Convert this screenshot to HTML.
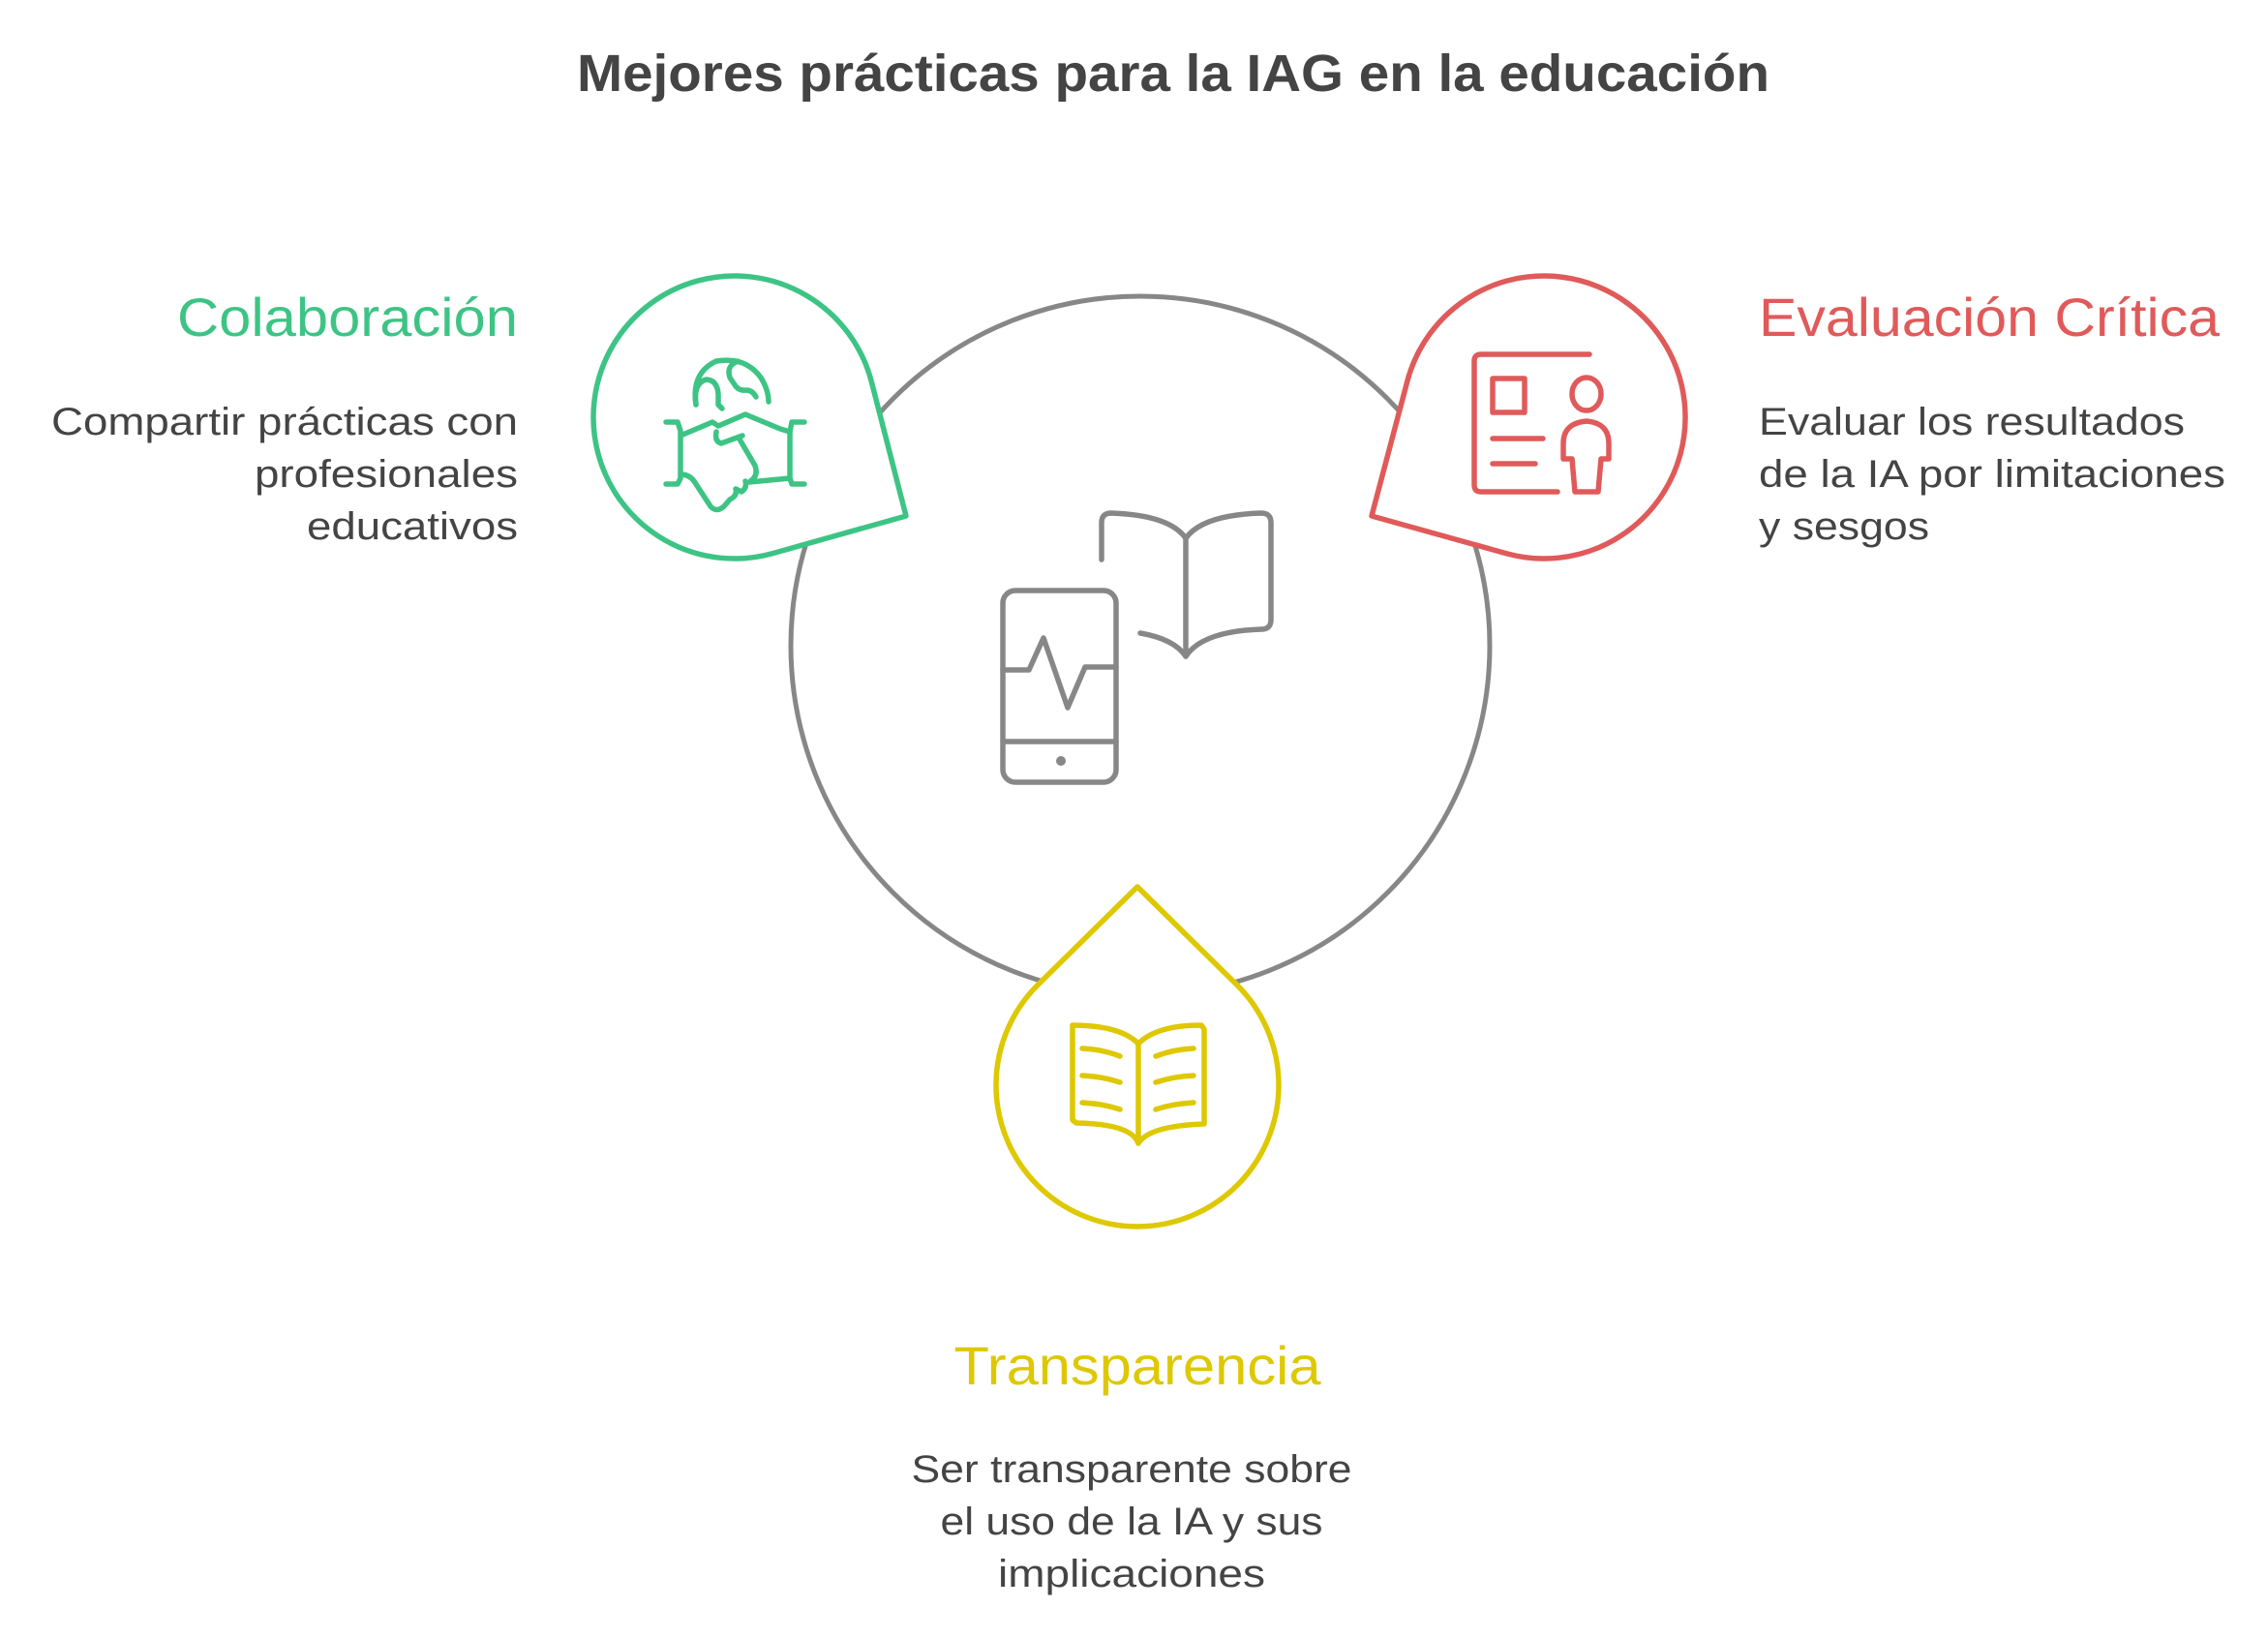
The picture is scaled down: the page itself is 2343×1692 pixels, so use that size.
<!DOCTYPE html>
<html><head><meta charset="utf-8"><style>
html,body{margin:0;padding:0;background:#fff;}
svg{display:block;}
text{font-family:"Liberation Sans",sans-serif;}
</style></head><body>
<svg width="2343" height="1692" viewBox="0 0 2343 1692" xmlns="http://www.w3.org/2000/svg">
<rect width="2343" height="1692" fill="#fff"/>
<text x="1212" y="94" font-size="54" font-weight="bold" fill="#444" text-anchor="middle" textLength="1232" lengthAdjust="spacingAndGlyphs">Mejores prácticas para la IAG en la educación</text>

<circle cx="1178" cy="667" r="361" fill="none" stroke="#878787" stroke-width="5"/>

<g fill="#fff" stroke-width="5.5" stroke-linejoin="round">
<path d="M900.4,394.7 L936,533 L798.3,571.6 A146,146 0 1,1 900.4,394.7 Z" stroke="#3DC485"/>
<path d="M1453.6,394.7 L1417,533 L1555.7,571.6 A146,146 0 1,0 1453.6,394.7 Z" stroke="#E05A5A"/>
<path d="M1072.5,1017 L1175,916 L1277.5,1017 A146,146 0 1,1 1072.5,1017 Z" stroke="#DEC800"/>
</g>

<!-- center icon -->
<g fill="none" stroke="#878787" stroke-width="5.5" stroke-linecap="round" stroke-linejoin="round">
<rect x="1036" y="610" width="117" height="198" rx="13"/>
<line x1="1036" y1="766" x2="1153" y2="766"/>
<polyline points="1036,692 1063,692 1078,659 1103,731 1121,689 1153,689"/>
<path d="M1138,578 L1138,540 Q1138,530 1148,530 Q1208,532 1225,556 Q1242,532 1303,530 Q1313,530 1313,540 L1313,640 Q1313,650 1303,650 Q1242,652 1225,678 Q1213,660 1178,654"/>
<line x1="1225" y1="556" x2="1225" y2="678"/>
</g>
<circle cx="1096" cy="786" r="5" fill="#878787"/>

<!-- green handshake -->
<g fill="none" stroke="#3DC485" stroke-width="5.5" stroke-linecap="round" stroke-linejoin="round">
<path d="M719,418 Q714,385 740,373 Q770,368 786,390 Q794,403 794,415"/>
<path d="M719,418 Q716,395 730,392 Q741,393 742,407 L742,418 L746,422"/>
<path d="M762,373 Q750,378 754,390 L760,399 Q764,404 772,403 Q778,404 781,410"/>
<path d="M688,436 L700,436 L703,445 L703,494 L700,500 L688,500"/>
<path d="M831,436 L818,436 L816,446 L816,494 L818,500 L831,500"/>
<path d="M703,450 L736,436 L742,440 L770,428 L806,443 L816,446"/>
<path d="M767,450 L745,458 Q738,456 740,446"/>
<path d="M763,452 L780,481 Q784,492 774,498 L816,494"/>
<path d="M703,490 Q712,490 717,497 L734,523 Q740,530 748,523 L754,516 Q762,512 760,505 L766,508 Q772,504 770,497"/>
</g>

<!-- red icon -->
<g fill="none" stroke="#E05A5A" stroke-width="5.5" stroke-linecap="round" stroke-linejoin="round">
<path d="M1642,366 L1530,366 Q1523,366 1523,373 L1523,501 Q1523,508 1530,508 L1609,508"/>
<rect x="1542" y="391" width="33" height="35"/>
<line x1="1542" y1="453" x2="1594" y2="453"/>
<line x1="1542" y1="479" x2="1586" y2="479"/>
<ellipse cx="1639" cy="407" rx="15" ry="17"/>
<path d="M1615,474 L1615,458 Q1615,437 1639,435 Q1662,437 1662,458 L1662,474 L1654,474 L1651,508 L1627,508 L1624,474 Z"/>
</g>

<!-- yellow book -->
<g fill="none" stroke="#DEC800" stroke-width="5.5" stroke-linecap="round" stroke-linejoin="round">
<path d="M1176,1181 Q1169,1161 1112,1160 L1108,1157 L1108,1059 Q1157,1059 1176,1078 Q1195,1059 1241,1059 L1244,1063 L1244,1161 Q1187,1163 1176,1181 Z"/>
<line x1="1176" y1="1078" x2="1176" y2="1181"/>
<path d="M1118,1083 Q1139,1084 1157,1091 M1118,1111 Q1139,1112 1157,1118 M1118,1139 Q1139,1140 1157,1146"/>
<path d="M1194,1091 Q1212,1084 1233,1083 M1194,1118 Q1212,1112 1233,1111 M1194,1146 Q1212,1140 1233,1139"/>
</g>

<!-- Colaboración -->
<text x="535" y="347" font-size="56" fill="#3DC485" text-anchor="end" textLength="352" lengthAdjust="spacingAndGlyphs">Colaboración</text>
<g font-size="40" fill="#444" text-anchor="end">
<text x="535" y="449" textLength="482" lengthAdjust="spacingAndGlyphs">Compartir prácticas con</text>
<text x="535" y="503" textLength="272" lengthAdjust="spacingAndGlyphs">profesionales</text>
<text x="535" y="557" textLength="218" lengthAdjust="spacingAndGlyphs">educativos</text>
</g>

<!-- Evaluación Crítica -->
<text x="1817" y="347" font-size="56" fill="#E05A5A" textLength="476" lengthAdjust="spacingAndGlyphs">Evaluación Crítica</text>
<g font-size="40" fill="#444">
<text x="1817" y="449" textLength="440" lengthAdjust="spacingAndGlyphs">Evaluar los resultados</text>
<text x="1817" y="503" textLength="482" lengthAdjust="spacingAndGlyphs">de la IA por limitaciones</text>
<text x="1817" y="557" textLength="176" lengthAdjust="spacingAndGlyphs">y sesgos</text>
</g>

<!-- Transparencia -->
<text x="1175" y="1430" font-size="56" fill="#DEC800" text-anchor="middle" textLength="379" lengthAdjust="spacingAndGlyphs">Transparencia</text>
<g font-size="40" fill="#444" text-anchor="middle">
<text x="1169" y="1531" textLength="455" lengthAdjust="spacingAndGlyphs">Ser transparente sobre</text>
<text x="1169" y="1585" textLength="395" lengthAdjust="spacingAndGlyphs">el uso de la IA y sus</text>
<text x="1169" y="1639" textLength="276" lengthAdjust="spacingAndGlyphs">implicaciones</text>
</g>
</svg>
</body></html>
